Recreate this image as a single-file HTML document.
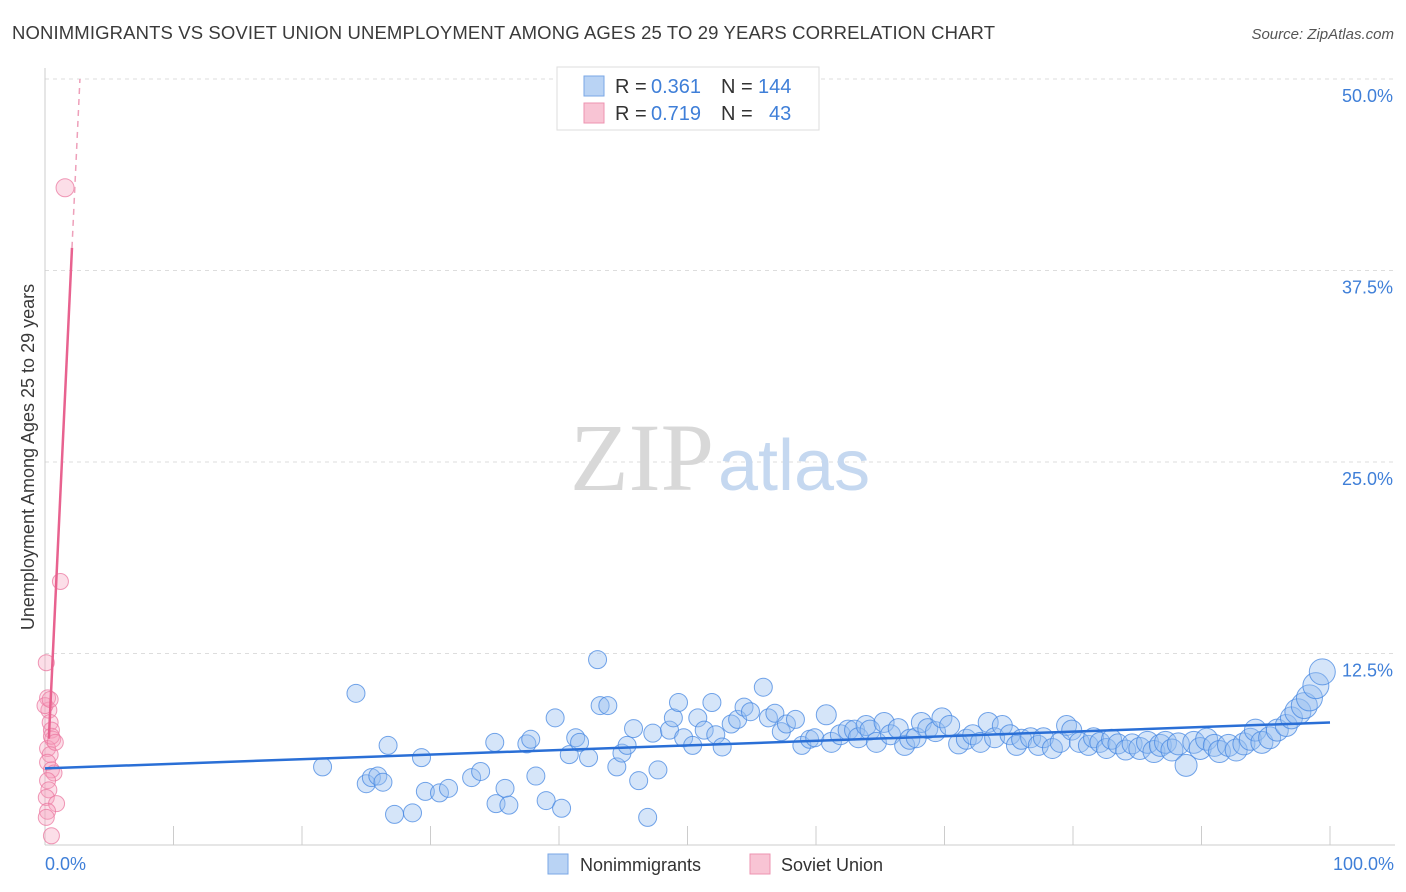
<!DOCTYPE html>
<html><head><meta charset="utf-8"><style>
body{margin:0;background:#fff;font-family:"Liberation Sans",sans-serif}
svg{display:block}
</style></head><body>
<svg width="1406" height="892">
<text x="12" y="39" font-size="18.5" fill="#3a3a3a" textLength="983">NONIMMIGRANTS VS SOVIET UNION UNEMPLOYMENT AMONG AGES 25 TO 29 YEARS CORRELATION CHART</text>
<text x="1394" y="39" font-size="15" fill="#555" font-style="italic" text-anchor="end">Source: ZipAtlas.com</text>
<g id="grid"></g>
<text x="714" y="490" font-size="96" font-family="Liberation Serif,serif" fill="#d8d8d8" text-anchor="end">ZIP</text>
<text x="718" y="490" font-size="72" fill="#c5d8f0">atlas</text>
<g id="pts"></g>
<g id="lines"></g>
<text transform="translate(34,457) rotate(-90)" font-size="18" fill="#3a3a3a" text-anchor="middle">Unemployment Among Ages 25 to 29 years</text>
<text x="45" y="870" font-size="18" fill="#3f7fd8">0.0%</text>
<text x="1394" y="870" font-size="18" fill="#3f7fd8" text-anchor="end">100.0%</text>
<g>
<rect x="557" y="67" width="262" height="63" fill="#fff" stroke="#ddd"/>
<rect x="584" y="76" width="20" height="20" fill="#b9d3f4" stroke="#7aa7e6"/>
<rect x="584" y="103" width="20" height="20" fill="#f8c4d4" stroke="#ee93b0"/>
<text y="93" font-size="20" fill="#333"><tspan x="615">R =</tspan><tspan x="651" fill="#3f7fd8">0.361</tspan><tspan x="721">N =</tspan><tspan x="758" fill="#3f7fd8">144</tspan></text>
<text y="120" font-size="20" fill="#333"><tspan x="615">R =</tspan><tspan x="651" fill="#3f7fd8">0.719</tspan><tspan x="721">N =</tspan><tspan x="769" fill="#3f7fd8">43</tspan></text>
</g>
<g><rect x="548" y="854" width="20" height="20" fill="#b9d3f4" stroke="#7aa7e6"/><text x="580" y="871" font-size="18" fill="#333">Nonimmigrants</text></g>
<g><rect x="750" y="854" width="20" height="20" fill="#f8c4d4" stroke="#ee93b0"/><text x="781" y="871" font-size="18" fill="#333">Soviet Union</text></g>
</svg>
<script>
const yTicks=[12.5,25,37.5,50];
const yTickLabels=["12.5%","25.0%","37.5%","50.0%"];
const xTicks=[0,10,20,30,40,50,60,70,80,90,100];
const blueX=[21.6,24.2,25.0,25.4,25.9,26.3,26.7,27.2,28.6,29.3,29.6,30.7,31.4,33.2,33.9,35.0,35.1,35.8,36.1,37.5,37.8,38.2,39.0,39.7,40.2,40.8,41.3,41.6,42.3,43.0,43.2,43.8,44.5,44.9,45.3,45.8,46.2,46.9,47.3,47.7,48.6,48.9,49.3,49.7,50.4,50.8,51.3,51.9,52.2,52.7,53.4,53.9,54.4,54.9,55.9,56.3,56.8,57.3,57.7,58.4,58.9,59.5,59.9,60.8,61.2,61.9,62.5,63.0,63.3,63.9,64.2,64.7,65.3,65.8,66.4,66.9,67.3,67.8,68.2,68.7,69.3,69.8,70.4,71.1,71.7,72.2,72.8,73.4,73.9,74.5,75.1,75.6,76.0,76.7,77.3,77.7,78.4,79.0,79.5,79.9,80.5,81.2,81.6,82.1,82.6,83.0,83.5,84.1,84.6,85.2,85.8,86.3,86.8,87.2,87.7,88.2,88.8,89.4,89.9,90.4,91.0,91.4,92.1,92.7,93.3,93.8,94.2,94.7,95.3,95.9,96.6,97.0,97.5,98.0,98.4,98.9,99.4];
const blueY=[5.1,9.9,4.0,4.4,4.5,4.1,6.5,2.0,2.1,5.7,3.5,3.4,3.7,4.4,4.8,6.7,2.7,3.7,2.6,6.6,6.9,4.5,2.9,8.3,2.4,5.9,7.0,6.7,5.7,12.1,9.1,9.1,5.1,6.0,6.5,7.6,4.2,1.8,7.3,4.9,7.5,8.3,9.3,7.0,6.5,8.3,7.5,9.3,7.2,6.4,7.9,8.2,9.0,8.7,10.3,8.3,8.6,7.4,7.9,8.2,6.5,6.9,7.0,8.5,6.7,7.2,7.5,7.5,7.0,7.8,7.5,6.7,8.0,7.2,7.6,6.5,6.9,7.0,8.0,7.6,7.4,8.3,7.8,6.6,6.9,7.2,6.7,8.0,7.0,7.8,7.2,6.5,6.9,7.0,6.5,7.0,6.3,6.7,7.8,7.5,6.7,6.5,7.0,6.7,6.3,6.9,6.6,6.2,6.6,6.3,6.7,6.1,6.5,6.7,6.2,6.6,5.2,6.7,6.3,6.9,6.5,6.1,6.5,6.2,6.6,6.9,7.5,6.7,7.0,7.5,7.8,8.3,8.7,9.1,9.6,10.4,11.3];
const pinkX=[1.56,1.2,0.1,0.2,0.3,0.4,0.5,0.6,0.2,0.4,0.2,0.5,0.7,0.2,0.3,0.1,0.9,0.2,0.1,0.5,0.5,0.8,0.0,0.4];
const pinkY=[42.9,17.2,11.9,9.6,8.8,8.0,7.5,6.9,6.3,5.9,5.4,4.9,4.7,4.2,3.6,3.1,2.7,2.2,1.8,0.6,7.1,6.7,9.1,9.5];
const blueFit=[5.0,8.0];
const pinkFit=[1.6,17.8];
const NS="http://www.w3.org/2000/svg";
const xs=v=>45+v*12.85, ys=v=>845-v*15.32;
function mk(t,a,p){const e=document.createElementNS(NS,t);for(const k in a)e.setAttribute(k,a[k]);p.appendChild(e);return e;}
const grid=document.getElementById('grid');
yTicks.forEach((t,i)=>{
 const l=mk('line',{x1:45,x2:1395,y1:ys(t),y2:ys(t),stroke:'#ddd','stroke-dasharray':'4,4'},grid);
 
 
 const tx=mk('text',{x:1393,y:ys(t)+23,'font-size':18,fill:'#3f7fd8','text-anchor':'end'},grid);
 tx.textContent=yTickLabels[i];
 
 
});
const ax=mk('line',{x1:45,x2:45,y1:68,y2:845,stroke:'#ccc'},grid);


const bx=mk('line',{x1:45,x2:1395,y1:845,y2:845,stroke:'#ccc'},grid);


xTicks.forEach(t=>{const l=mk('line',{x1:xs(t),x2:xs(t),y1:826,y2:845,stroke:'#ccc'},grid);
 
 });
const pts=document.getElementById('pts');
blueX.forEach((x,i)=>{const r=x>97?13:(x>85?11:(x>60?10:9));
 const c=mk('circle',{cx:xs(x),cy:ys(blueY[i]),r:r,fill:'rgba(150,190,240,0.4)',stroke:'rgba(70,135,225,0.75)','stroke-width':1},pts);
 
 });
pinkX.forEach((x,i)=>{const c=mk('circle',{cx:xs(x),cy:ys(pinkY[i]),r:i===0?9:8,fill:'rgba(245,160,190,0.35)',stroke:'rgba(235,120,160,0.75)','stroke-width':1},pts);
 
 });
const lg=document.getElementById('lines');
const b=mk('line',{x1:xs(0),y1:ys(blueFit[0]),x2:xs(100),y2:ys(blueFit[1]),stroke:'#2a6fd6','stroke-width':2.5},lg);


const px=v=>pinkFit[0]+pinkFit[1]*v;
const p1=mk('line',{x1:xs(0.3),y1:ys(px(0.3)),x2:xs(2.1),y2:ys(px(2.1)),stroke:'#e8628f','stroke-width':2.5},lg);


const xe=(50-pinkFit[0])/pinkFit[1];
const p2=mk('line',{x1:xs(2.1),y1:ys(px(2.1)),x2:xs(xe),y2:ys(50),stroke:'#eea0ba','stroke-width':1.5,'stroke-dasharray':'6,5'},lg);


</script>
</body></html>
